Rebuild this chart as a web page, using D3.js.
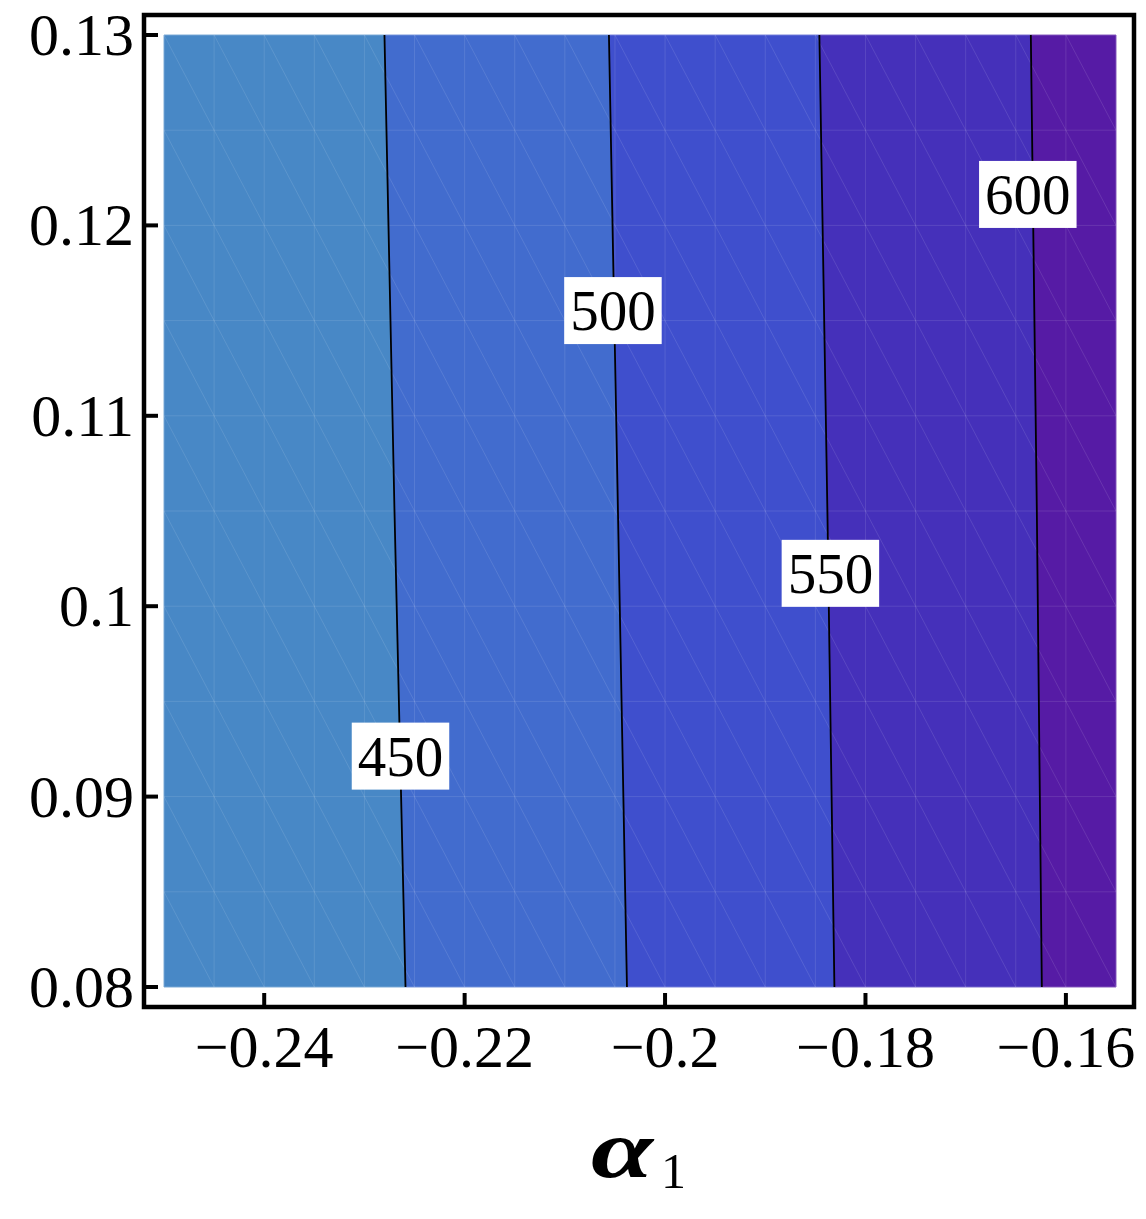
<!DOCTYPE html>
<html>
<head>
<meta charset="utf-8">
<script src="https://cdn.jsdelivr.net/npm/d3@7"></script>
<style>
  body { margin: 0; background: #fff; }
  text { font-family: "Liberation Serif", "DejaVu Serif", serif; fill: #000; }
</style>
</head>
<body>
<script>
// contour levels and the traced lines (alpha1, y)
const levels = [450, 500, 550, 600];
const line450 = [[-0.2280, 0.13], [-0.2270, 0.105], [-0.2259, 0.08]];
const line500 = [[-0.2056, 0.13], [-0.2047, 0.105], [-0.2038, 0.08]];
const line550 = [[-0.1846, 0.13], [-0.1838, 0.105], [-0.1831, 0.08]];
const line600 = [[-0.1635, 0.13], [-0.1629, 0.105], [-0.1624, 0.08]];
const contourLines = [line450, line500, line550, line600];

// where the level labels sit
const labelX = [-0.2264, -0.2052, -0.1835, -0.1638];
const labelY = [0.0921, 0.1155, 0.1017, 0.1216];

// band colours, lowest to highest
const bandColors = ["#4888c6", "#426cce", "#3f4fcd", "#4530ba", "#561ba5"];

const xTicks = [-0.24, -0.22, -0.2, -0.18, -0.16];
const xTickLabels = ["\u22120.24", "\u22120.22", "\u22120.2", "\u22120.18", "\u22120.16"];
const yTicks = [0.08, 0.09, 0.1, 0.11, 0.12, 0.13];
const yTickLabels = ["0.08", "0.09", "0.1", "0.11", "0.12", "0.13"];

const xDomain = [-0.25, -0.155];
const yDomain = [0.08, 0.13];

const W = 1146, H = 1219;
const frame = { left: 144, top: 15, right: 1134, bottom: 1007 };

const x = d3.scaleLinear().domain(xDomain).range([164, 1116]);
const y = d3.scaleLinear().domain(yDomain).range([987, 35]);

const svg = d3.select("body").append("svg")
    .attr("width", W)
    .attr("height", H);

// build band polygons between consecutive contour lines
const leftEdge = [[xDomain[0], yDomain[1]], [xDomain[0], yDomain[0]]];
const rightEdge = [[xDomain[1], yDomain[1]], [xDomain[1], yDomain[0]]];
const bounds = [leftEdge].concat(contourLines).concat([rightEdge]);

const bands = svg.append("g");
for (let i = 0; i < bounds.length - 1; i++) {
    const pts = bounds[i].concat(bounds[i + 1].slice().reverse());
    bands.append("path")
        .attr("d", "M" + pts.map(p => x(p[0]) + "," + y(p[1])).join("L") + "Z")
        .attr("fill", bandColors[i])
        .attr("stroke", bandColors[i])
        .attr("stroke-width", 0.8);
}

// faint mesh from the triangulation
const mesh = svg.append("g")
    .attr("stroke", "#ffffff")
    .attr("stroke-opacity", 0.11)
    .attr("stroke-width", 1)
    .attr("fill", "none");
const mx = d3.range(xDomain[0], xDomain[1] + 1e-9, 0.005);
const my = d3.range(yDomain[0], yDomain[1] + 1e-9, 0.005);
mx.slice(1, -1).forEach(v => mesh.append("line")
    .attr("x1", x(v)).attr("x2", x(v)).attr("y1", y(yDomain[0])).attr("y2", y(yDomain[1])));
my.slice(1, -1).forEach(v => mesh.append("line")
    .attr("y1", y(v)).attr("y2", y(v)).attr("x1", x(xDomain[0])).attr("x2", x(xDomain[1])));
for (let i = 0; i < mx.length - 1; i++) {
    for (let j = 0; j < my.length - 1; j++) {
        mesh.append("line")
            .attr("x1", x(mx[i])).attr("y1", y(my[j + 1]))
            .attr("x2", x(mx[i + 1])).attr("y2", y(my[j]));
    }
}
mesh.append("rect")
    .attr("x", x(xDomain[0])).attr("y", y(yDomain[1]))
    .attr("width", x(xDomain[1]) - x(xDomain[0]))
    .attr("height", y(yDomain[0]) - y(yDomain[1]))
    .attr("stroke-opacity", 0.25);

// contour lines
const lineGen = d3.line().x(d => x(d[0])).y(d => y(d[1]));
svg.append("g").selectAll("path")
    .data(contourLines)
    .enter().append("path")
    .attr("d", lineGen)
    .attr("fill", "none")
    .attr("stroke", "#000")
    .attr("stroke-width", 1.8);

// level labels with white boxes
levels.forEach((lv, i) => {
    const g = svg.append("g");
    const cx = x(labelX[i]), cy = y(labelY[i]);
    const box = g.append("rect").attr("fill", "#fff");
    const t = g.append("text")
        .attr("x", cx)
        .attr("y", cy + 19)
        .attr("text-anchor", "middle")
        .attr("font-size", 57)
        .text(lv);
    const bb = t.node().getBBox();
    box.attr("x", cx - bb.width / 2 - 6)
        .attr("y", cy - 34)
        .attr("width", bb.width + 12)
        .attr("height", 67);
});

// frame
svg.append("rect")
    .attr("x", frame.left).attr("y", frame.top)
    .attr("width", frame.right - frame.left)
    .attr("height", frame.bottom - frame.top)
    .attr("fill", "none")
    .attr("stroke", "#000")
    .attr("stroke-width", 4.5);

// ticks
const ticks = svg.append("g").attr("stroke", "#000").attr("stroke-width", 4);
xTicks.forEach(v => ticks.append("line")
    .attr("x1", x(v)).attr("x2", x(v))
    .attr("y1", frame.bottom).attr("y2", frame.bottom - 14));
yTicks.forEach(v => ticks.append("line")
    .attr("y1", y(v)).attr("y2", y(v))
    .attr("x1", frame.left).attr("x2", frame.left + 14));

// tick labels
svg.append("g").selectAll("text")
    .data(xTicks)
    .enter().append("text")
    .attr("x", d => x(d))
    .attr("y", 1067)
    .attr("text-anchor", "middle")
    .attr("font-size", 60)
    .text((d, i) => xTickLabels[i]);

svg.append("g").selectAll("text")
    .data(yTicks)
    .enter().append("text")
    .attr("x", 134)
    .attr("y", d => y(d) + 20)
    .attr("text-anchor", "end")
    .attr("font-size", 60)
    .text((d, i) => yTickLabels[i]);

// axis title
svg.append("text")
    .attr("x", 591)
    .attr("y", 1177)
    .attr("font-family", "'DejaVu Serif', serif")
    .attr("font-size", 82)
    .attr("font-weight", "bold")
    .attr("font-style", "italic")
    .attr("textLength", 62)
    .attr("lengthAdjust", "spacingAndGlyphs")
    .text("\u03b1");
svg.append("text")
    .attr("x", 661)
    .attr("y", 1188)
    .attr("font-size", 50)
    .text("1");
</script>
</body>
</html>
